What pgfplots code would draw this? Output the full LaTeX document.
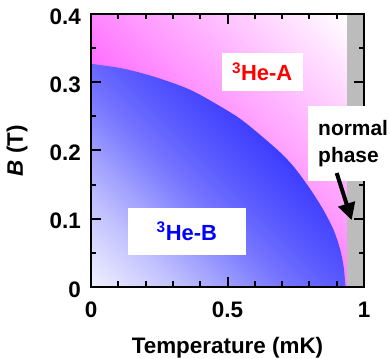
\documentclass[border=0pt]{standalone}
\usepackage{fontspec}
\setmainfont{Liberation Sans}
\usepackage{pgfplots}
\pgfplotsset{compat=1.18}
\usetikzlibrary{arrows.meta}
\definecolor{pinkdark}{RGB}{255,5,255}
\definecolor{bA}{RGB}{240,240,255}
\definecolor{bB}{RGB}{190,190,255}
\definecolor{bC}{RGB}{120,120,255}
\definecolor{bD}{RGB}{95,95,255}
\definecolor{bE}{RGB}{58,58,255}
\definecolor{bF}{RGB}{40,40,255}
\definecolor{normgray}{RGB}{188,188,188}
\pgfdeclareverticalshading{pinkshade}{100bp}{color(0bp)=(pinkdark); color(14.6bp)=(pinkdark); color(85.4bp)=(white); color(100bp)=(white)}
\pgfdeclareverticalshading{blueshade}{100bp}{color(0bp)=(bA); color(14.6bp)=(bA); color(28.1bp)=(bB); color(42.9bp)=(bC); color(50bp)=(bD); color(63.5bp)=(bE); color(85.4bp)=(bF); color(100bp)=(bF)}
\begin{document}
\begin{tikzpicture}
\begin{axis}[
  name=ax,
  scale only axis, width=273bp, height=273bp,
  xmin=0, xmax=1, ymin=0, ymax=0.4,
  axis on top,
  axis line style={line width=2.2bp},
  every tick/.style={black, line width=2bp},
  major tick length=10bp, minor tick length=5.5bp,
  xtick={0,0.5,1}, minor x tick num=4,
  ytick={0,0.1,0.2,0.3,0.4}, minor y tick num=1,
  xticklabels={0,0.5,1},
  yticklabels={0,0.1,0.2,0.3,0.4},
  /pgf/number format/assume math mode=true,
  tick label style={font=\bfseries\fontsize{22.5}{22.5}\selectfont},
  xticklabel style={anchor=north, inner sep=0pt, yshift=-14.5bp},
  yticklabel style={anchor=east, inner sep=0pt, xshift=-10bp, yshift=-2.5bp},
  xlabel={Temperature (mK)},
  ylabel={\textit{B} (T)},
  label style={font=\bfseries\fontsize{22.5}{22.5}\selectfont},
  xlabel style={at={(axis description cs:0.5,-0.2418)}, anchor=base},
  ylabel style={at={(axis description cs:-0.271,0.5)}, anchor=center},
]
\addplot[draw=none, shading=pinkshade, shading angle=-45]
  coordinates {(0,0) (0,0.4) (0.939,0.4) (0.939,0)} -- cycle;
\addplot[draw=none, fill=normgray]
  coordinates {(0.939,0) (0.939,0.4) (1,0.4) (1,0)} -- cycle;
\addplot[draw=none, smooth, shading=blueshade, shading angle=-45]
  coordinates {(0,0.327) (0.118,0.320) (0.24,0.307) (0.363,0.289) (0.472,0.265)
  (0.558,0.243) (0.680,0.202) (0.741,0.177) (0.802,0.144) (0.851,0.113)
  (0.888,0.084) (0.912,0.056) (0.926,0.028) (0.932,0)} \closedcycle;
\coordinate (pA) at (axis cs:0.627,0.3155);
\coordinate (pB) at (axis cs:0.351,0.0816);
\coordinate (pN) at (axis cs:0.795,0.2107);
\coordinate (arS) at (axis cs:0.9,0.167);
\coordinate (arE) at (axis cs:0.955,0.098);
\end{axis}
\node[fill=white, minimum width=81bp, minimum height=38bp, inner sep=0pt, text=red,
  font=\bfseries\fontsize{22}{22}\selectfont] at (pA) {\textsuperscript{3}He-A};
\node[fill=white, minimum width=118bp, minimum height=47bp, inner sep=0pt, text=blue,
  font=\bfseries\fontsize{22}{22}\selectfont] at (pB) {\textsuperscript{3}He-B};
\node[fill=white, anchor=west, text width=80bp, inner xsep=10bp, inner ysep=0pt,
  minimum height=75bp, align=left, font=\bfseries\fontsize{21}{27}\selectfont] at (pN) {normal\\phase};
\draw[line width=4bp, -{Triangle[length=17bp, width=17bp]}] (arS) -- (arE);
\pgfresetboundingbox
\path[use as bounding box] ([xshift=-91bp,yshift=-72bp]ax.south west) rectangle ([xshift=26bp,yshift=14bp]ax.north east);
\end{tikzpicture}
\end{document}
